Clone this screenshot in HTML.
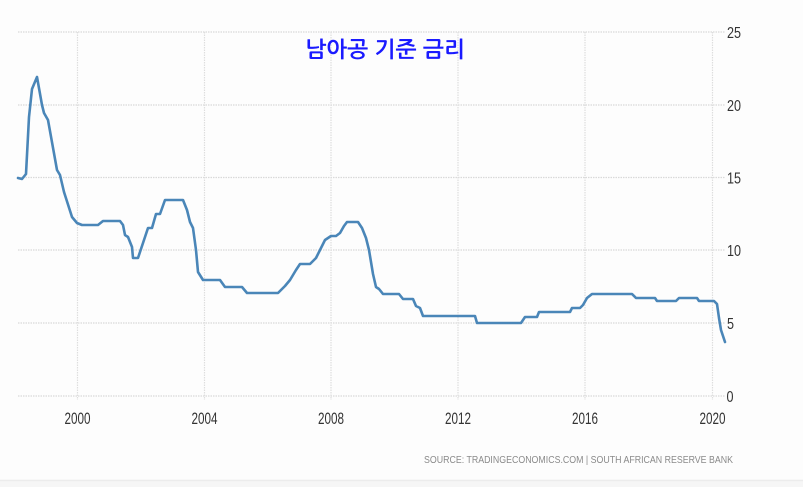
<!DOCTYPE html>
<html>
<head>
<meta charset="utf-8">
<style>
  html,body{margin:0;padding:0;background:#fdfdfd;}
  body{width:803px;height:487px;overflow:hidden;position:relative;}
  svg{position:absolute;left:0;top:0;}
</style>
</head>
<body>
<svg width="803" height="487" viewBox="0 0 803 487" xmlns="http://www.w3.org/2000/svg">
  <rect x="0" y="0" width="803" height="487" fill="#fdfdfd"/>
  <rect x="0" y="481" width="803" height="6" fill="#f6f6f6"/>
  <line x1="0" y1="480.5" x2="803" y2="480.5" stroke="#ececec" stroke-width="1.5"/>

  <!-- horizontal grid -->
  <g stroke="#d9d9d9" stroke-width="1.2" stroke-dasharray="1.5,1">
    <line x1="18" y1="32" x2="725" y2="32"/>
    <line x1="18" y1="105" x2="725" y2="105"/>
    <line x1="18" y1="177.5" x2="725" y2="177.5"/>
    <line x1="18" y1="250" x2="725" y2="250"/>
    <line x1="18" y1="323" x2="725" y2="323"/>
    <line x1="18" y1="396" x2="725" y2="396"/>
  </g>
  <!-- vertical grid -->
  <g stroke="#dedede" stroke-width="1.2" stroke-dasharray="1.5,1">
    <line x1="77.5" y1="32" x2="77.5" y2="400"/>
    <line x1="204.5" y1="32" x2="204.5" y2="400"/>
    <line x1="331" y1="32" x2="331" y2="400"/>
    <line x1="458" y1="32" x2="458" y2="400"/>
    <line x1="585" y1="32" x2="585" y2="400"/>
    <line x1="712.5" y1="32" x2="712.5" y2="400"/>
  </g>

  <!-- title -->
  <text x="305" y="57" font-family="NanumGothic, 'Noto Sans CJK KR', sans-serif" font-weight="bold" font-size="22" fill="#1a1aff" textLength="160" lengthAdjust="spacingAndGlyphs">남아공 기준 금리</text>

  <!-- series -->
  <polyline fill="none" stroke="#4a86b8" stroke-width="2.6" stroke-linejoin="round" stroke-linecap="round"
    points="18,178 22,179 26,174 29,117 32,89 37,77 42,105 44,113 48,120 57,170 60,175 64,192 72,217 77,223 82,225 98,225 103,221 120,221 123,225 125,235 128,237 132,247 133,258 138,258 143,243 148,228 152,228 156,214 160,214 165,200 183,200 187,210 190,222 193,228 196,250 198,272 203,280 220,280 225,287 242,287 247,293 278,293 285,286 290,280 296,270 300,264 310,264 316,258 320,250 325,240 331,236 336,236 340,233 344,226 347,222 358,222 362,228 366,238 369,250 371,262 373,274 376,287 379,289 383,294 399,294 403,299 413,299 416,306 420,308 423,316 475,316 477,323 521,323 525,317 537,317 539,312 570,312 572,308 580,308 583,305 587,298 592,294 632,294 636,298 655,298 657,301 676,301 679,298 697,298 699,301 714,301 717,304 719,318 721,330 725,342"/>

  <!-- y labels -->
  <g font-family="'Liberation Sans', sans-serif" font-size="16" fill="#333">
    <text x="727" y="38" textLength="14" lengthAdjust="spacingAndGlyphs">25</text>
    <text x="727" y="111" textLength="14" lengthAdjust="spacingAndGlyphs">20</text>
    <text x="727" y="183.5" textLength="14" lengthAdjust="spacingAndGlyphs">15</text>
    <text x="727" y="256" textLength="14" lengthAdjust="spacingAndGlyphs">10</text>
    <text x="727" y="329" textLength="7" lengthAdjust="spacingAndGlyphs">5</text>
    <text x="726.5" y="402" textLength="7" lengthAdjust="spacingAndGlyphs">0</text>
  </g>

  <!-- x labels -->
  <g font-family="'Liberation Sans', sans-serif" font-size="17" fill="#333">
    <text x="64.5" y="424" textLength="26" lengthAdjust="spacingAndGlyphs">2000</text>
    <text x="191.5" y="424" textLength="26" lengthAdjust="spacingAndGlyphs">2004</text>
    <text x="318" y="424" textLength="26" lengthAdjust="spacingAndGlyphs">2008</text>
    <text x="445" y="424" textLength="26" lengthAdjust="spacingAndGlyphs">2012</text>
    <text x="572" y="424" textLength="26" lengthAdjust="spacingAndGlyphs">2016</text>
    <text x="699.5" y="424" textLength="26" lengthAdjust="spacingAndGlyphs">2020</text>
  </g>

  <!-- source -->
  <text x="424" y="463" font-family="'Liberation Sans', sans-serif" font-size="10" fill="#8a8a8a" textLength="309" lengthAdjust="spacingAndGlyphs">SOURCE: TRADINGECONOMICS.COM | SOUTH AFRICAN RESERVE BANK</text>
</svg>
</body>
</html>
